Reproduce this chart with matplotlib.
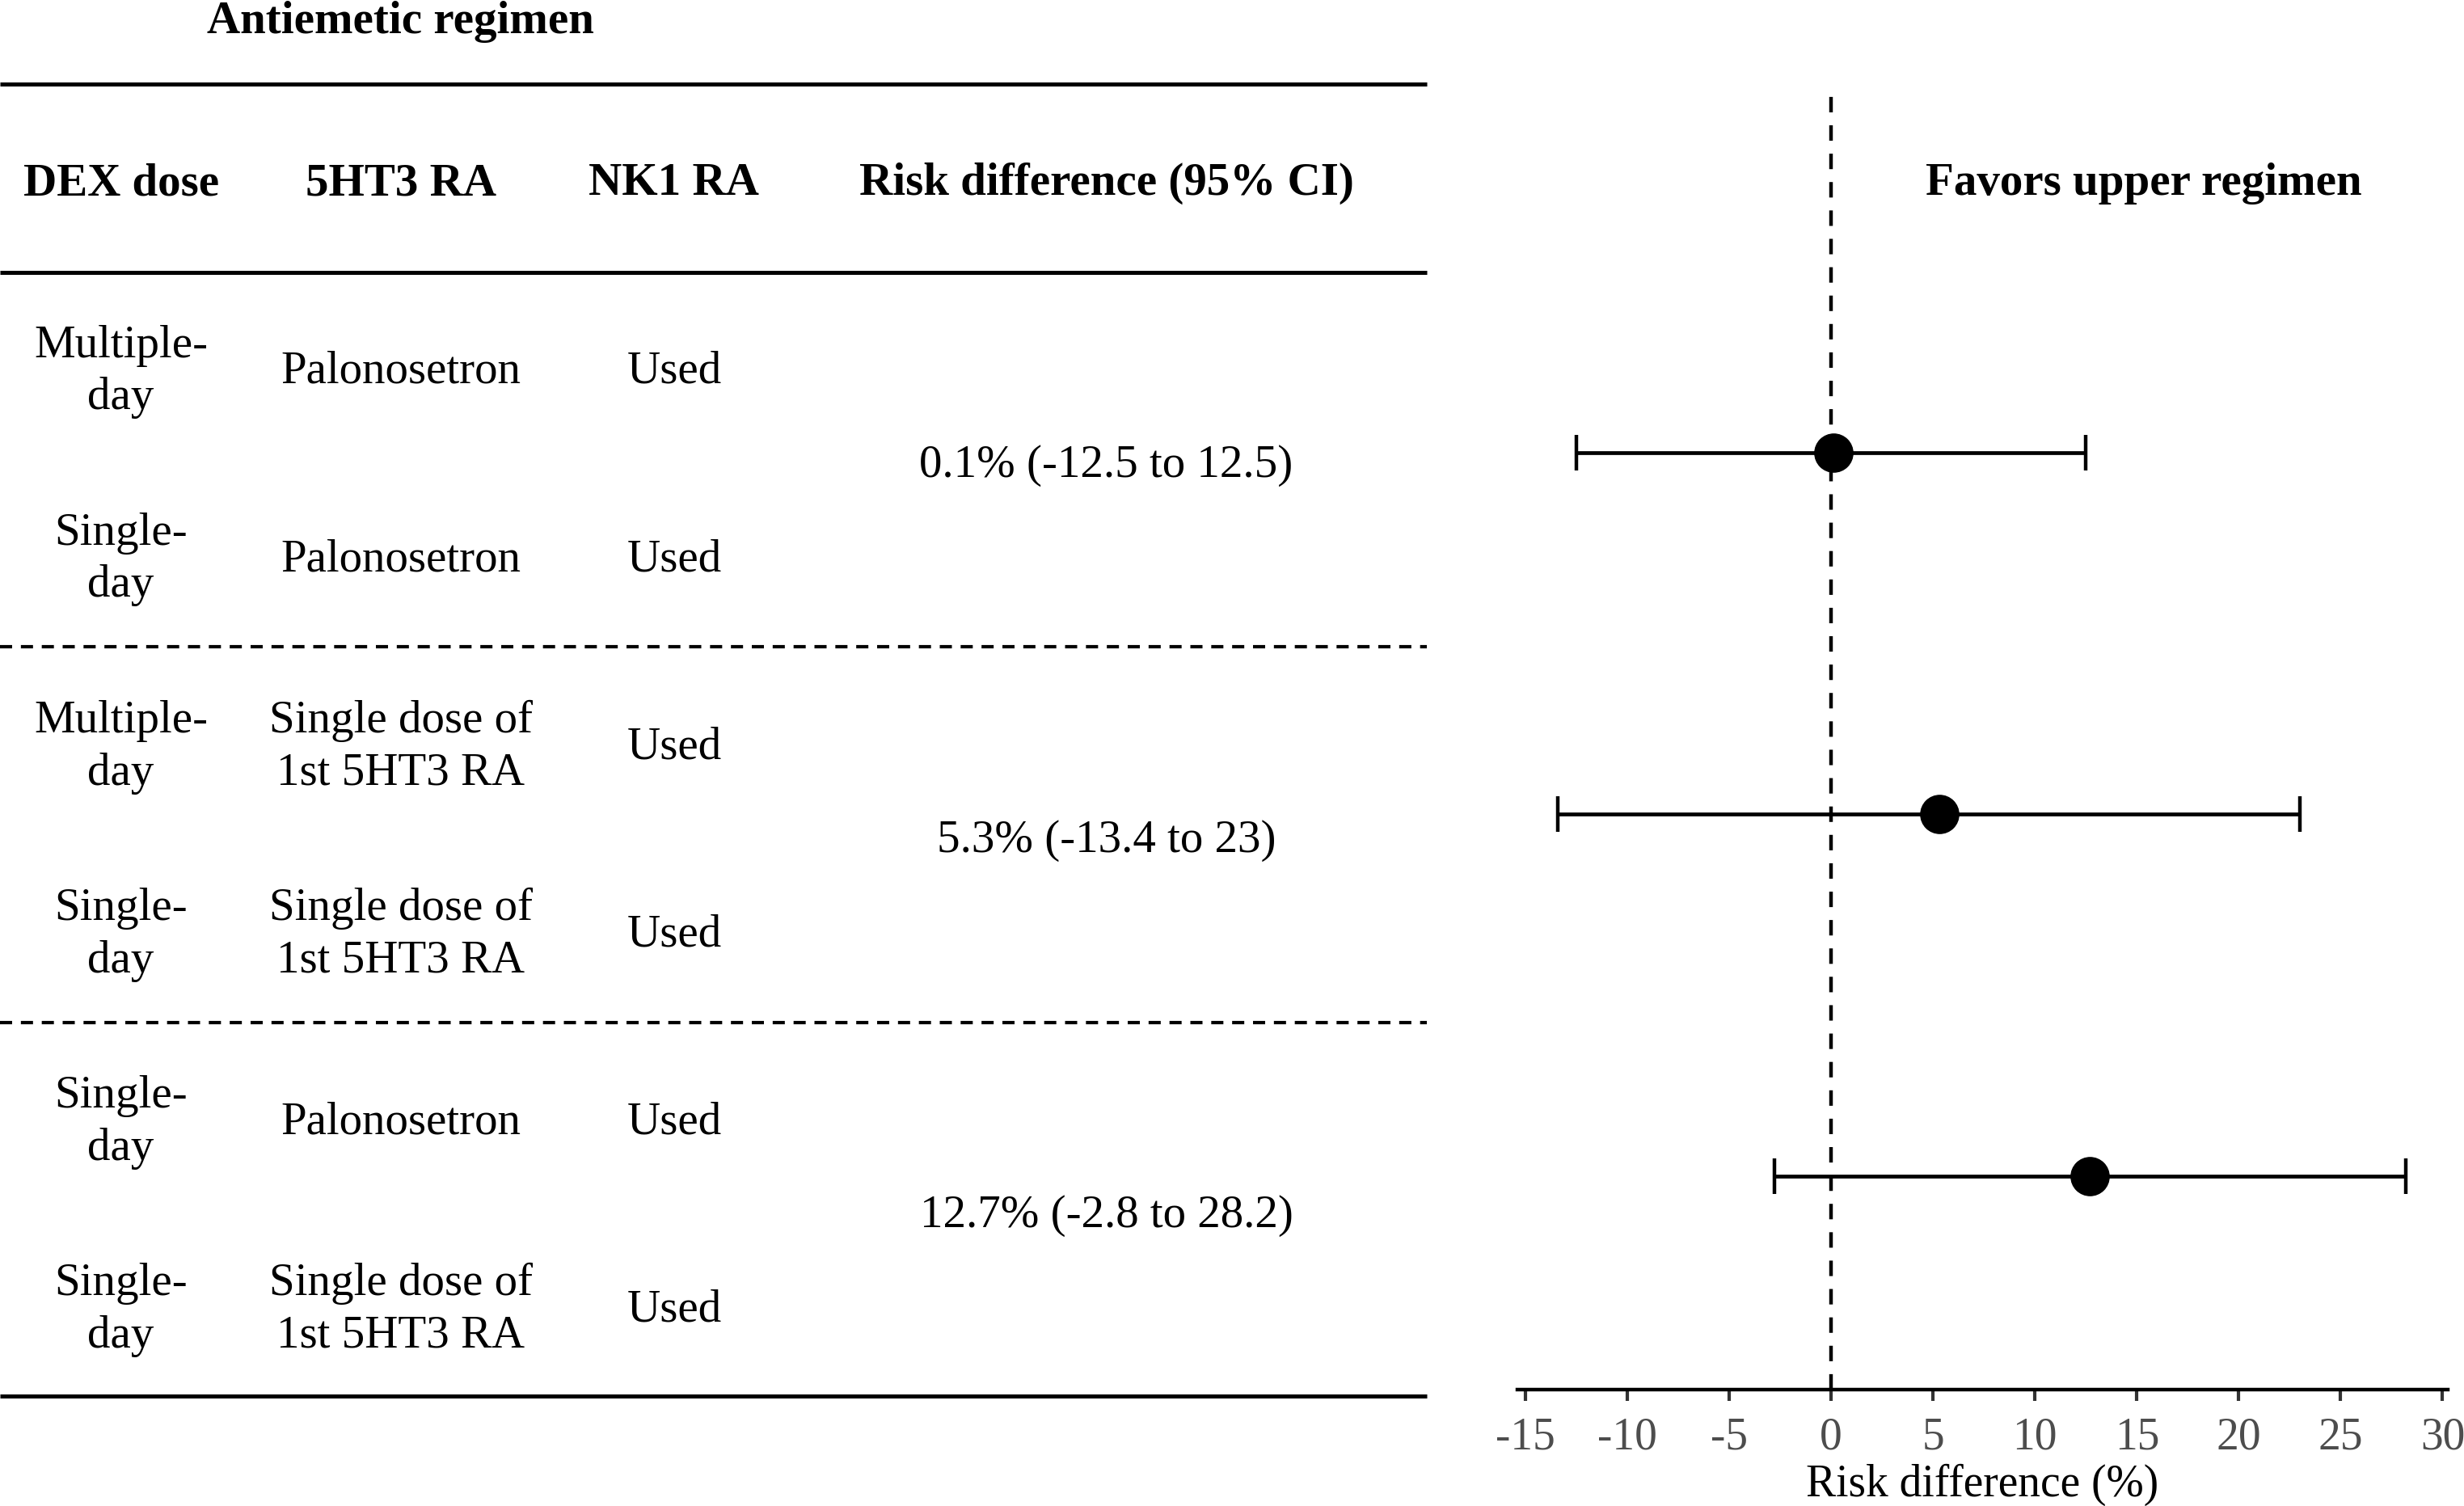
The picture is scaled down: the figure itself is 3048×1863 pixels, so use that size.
import numpy as np
import matplotlib
matplotlib.use("Agg")
import matplotlib.pyplot as plt

plt.rcParams['font.family'] = ['Liberation Serif', 'DejaVu Serif']

# table content
header = ["DEX dose", "5HT3 RA", "NK1 RA", "Risk difference (95% CI)"]
dex_dose = ["Multiple-\nday", "Single-\nday",
            "Multiple-\nday", "Single-\nday",
            "Single-\nday", "Single-\nday"]
ht3_ra = ["Palonosetron", "Palonosetron",
          "Single dose of\n1st 5HT3 RA", "Single dose of\n1st 5HT3 RA",
          "Palonosetron", "Single dose of\n1st 5HT3 RA"]
nk1_ra = ["Used", "Used", "Used", "Used", "Used", "Used"]

# comparison results
rd = [0.1, 5.3, 12.7]
ci_low = [-12.5, -13.4, -2.8]
ci_high = [12.5, 23, 28.2]
xticks = [-15, -10, -5, 0, 5, 10, 15, 20, 25, 30]

FS = 41
W, H = 1568, 960  # layout units (reference px)

fig = plt.figure(figsize=(30.48, 18.63), dpi=100)

# --- left table, drawn on a full-figure axes in layout units
tab = fig.add_axes([0, 0, 1, 1])
tab.set_xlim(0, W)
tab.set_ylim(H, 0)
tab.axis('off')

col_x = [77, 255, 429, 704]
tab.text(255, 14, "Antiemetic regimen", ha='center', va='center',
         fontsize=FS, fontweight='bold')
for cx, h in zip(col_x, header):
    tab.text(cx, 117, h, ha='center', va='center', fontsize=FS, fontweight='bold')

row_y = 237 + 119.6 * np.arange(len(dex_dose))
for y, a, b, c in zip(row_y, dex_dose, ht3_ra, nk1_ra):
    tab.text(col_x[0], y, a, ha='center', va='center', fontsize=FS, linespacing=1.32)
    tab.text(col_x[1], y, b, ha='center', va='center', fontsize=FS, linespacing=1.32)
    tab.text(col_x[2], y, c, ha='center', va='center', fontsize=FS)

for i in range(len(rd)):
    y = (row_y[2 * i] + row_y[2 * i + 1]) / 2
    lab = f"{rd[i]:g}% ({ci_low[i]:g} to {ci_high[i]:g})"
    tab.text(col_x[3], y, lab, ha='center', va='center', fontsize=FS)

for y in [53.5, 173.5, 890]:
    tab.plot([0, 908], [y, y], color='black', lw=3.6, solid_capstyle='butt')
for y in [412, 652]:
    tab.plot([0, 908], [y, y], color='black', lw=3.0, dashes=(3.6, 2.6))

# --- right forest plot
ax = fig.add_axes([965.6 / W, 1 - 886 / H, (1557.6 - 965.6) / W, (886 - 60) / H])
ypos = [3, 2, 1]
ax.axvline(0, color='black', lw=3.2, dashes=(4.3, 3.6))
err = [np.array(rd) - np.array(ci_low), np.array(ci_high) - np.array(rd)]
ax.errorbar(rd, ypos, xerr=err, fmt='o', color='black', ms=34,
            elinewidth=3.4, capsize=16, capthick=3.2)
ax.set_xlim(-15.4, 30.25)
ax.set_ylim(0.41, 3.99)
ax.set_xticks(xticks)
ax.set_xticklabels([str(t) for t in xticks])
ax.tick_params(axis='x', length=10, width=3, color='#333333',
               labelsize=FS - 1, labelcolor='#4D4D4D', pad=14)
ax.set_yticks([])
for s in ['top', 'right', 'left']:
    ax.spines[s].set_visible(False)
ax.spines['bottom'].set_linewidth(3.2)
ax.spines['bottom'].set_color('black')
ax.set_xlabel("Risk difference (%)", fontsize=FS - 1, labelpad=4)
ax.patch.set_alpha(0)

tab.text(1364, 117, "Favors upper regimen", ha='center', va='center',
         fontsize=FS, fontweight='bold')

fig.savefig("out.png", dpi=100)
